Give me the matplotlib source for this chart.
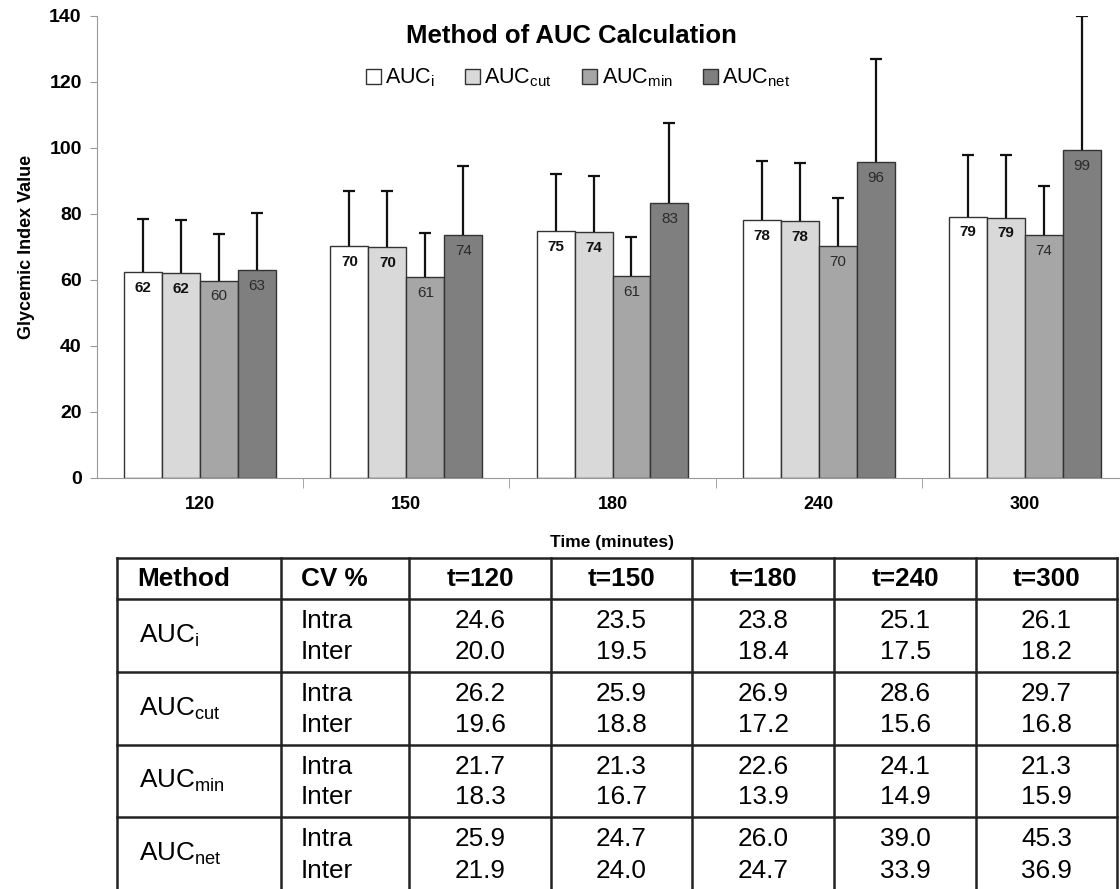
import numpy as np
import matplotlib.pyplot as plt

plt.rcParams['font.family'] = ['Liberation Sans', 'DejaVu Sans']
plt.rcParams['mathtext.default'] = 'regular'

times = ["120", "150", "180", "240", "300"]
methods = ["AUC$_{i}$", "AUC$_{cut}$", "AUC$_{min}$", "AUC$_{net}$"]

auc_i = [62.4, 70.4, 74.8, 78.2, 79.2]
auc_cut = [62.2, 70.0, 74.4, 77.8, 78.9]
auc_min = [59.8, 60.8, 61.2, 70.3, 73.7]
auc_net = [63.0, 73.6, 83.4, 95.8, 99.4]

sd_i = [16.1, 16.6, 17.2, 17.8, 18.8]
sd_cut = [16.0, 17.0, 17.1, 17.7, 19.1]
sd_min = [14.1, 13.4, 11.8, 14.5, 14.8]
sd_net = [17.3, 20.9, 24.1, 31.2, 40.6]

# CV table
cv_rows = ["Intra", "Inter"]
cv_cols = ["t=120", "t=150", "t=180", "t=240", "t=300"]
cv_i = [[24.6, 23.5, 23.8, 25.1, 26.1], [20.0, 19.5, 18.4, 17.5, 18.2]]
cv_cut = [[26.2, 25.9, 26.9, 28.6, 29.7], [19.6, 18.8, 17.2, 15.6, 16.8]]
cv_min = [[21.7, 21.3, 22.6, 24.1, 21.3], [18.3, 16.7, 13.9, 14.9, 15.9]]
cv_net = [[25.9, 24.7, 26.0, 39.0, 45.3], [21.9, 24.0, 24.7, 33.9, 36.9]]

means = [auc_i, auc_cut, auc_min, auc_net]
sds = [sd_i, sd_cut, sd_min, sd_net]
cvs = [cv_i, cv_cut, cv_min, cv_net]
colors = ["#ffffff", "#d9d9d9", "#a6a6a6", "#7f7f7f"]

fig = plt.figure(figsize=(11.2, 8.89), dpi=100)
ax = fig.add_axes([97/1120, 1-478/889, (1128-97)/1120, 462/889])

x = np.arange(len(times))
w = 0.184
for k in range(4):
    pos = x + (k - 1.5)*w
    ax.bar(pos, means[k], w, color=colors[k], edgecolor="#333333", linewidth=1.0,
           label=methods[k], zorder=2)
    eb = ax.errorbar(pos, means[k], yerr=[np.zeros(5), sds[k]], fmt="none", ecolor="#111111",
                     elinewidth=1.6, capsize=4.5, capthick=1.6, zorder=3)
    # keep only the upper cap
    for cl in eb[1]:
        if np.allclose(cl.get_ydata(), means[k]):
            cl.set_visible(False)
    for p, m in zip(pos, means[k]):
        if k < 2:
            ax.text(p, m - 4.8, f"{m:.0f}", ha="center", va="center", fontsize=11,
                    fontweight="bold", color="#111111", zorder=4)
        else:
            ax.text(p, m - 4.8, f"{m:.0f}", ha="center", va="center", fontsize=11,
                    color="#2a2a2a", zorder=4)

ax.set_xlim(-0.5, 4.5)
ax.set_ylim(0, 140)
ax.set_yticks(np.arange(0, 141, 20))
ax.set_xticks(x)
ax.set_xticklabels(times, fontsize=13, fontweight="bold")
ax.set_xticks(np.arange(0.5, 4.5, 1), minor=True)
ax.tick_params(axis="x", which="major", length=0, pad=13)
ax.tick_params(axis="x", which="minor", length=7, color="#999999", direction="out")
ax.tick_params(axis="y", length=5, color="#999999", labelsize=14, pad=6)
for lab in ax.get_yticklabels():
    lab.set_fontweight("bold")
for s in ["top", "right"]:
    ax.spines[s].set_visible(False)
for s in ["left", "bottom"]:
    ax.spines[s].set_color("#999999")
ax.set_ylabel("Glycemic Index Value", fontsize=13, fontweight="bold", labelpad=10)
ax.set_xlabel("Time (minutes)", fontsize=12.5, fontweight="bold", labelpad=16)

fig.text(571/1120, 1-36/889, "Method of AUC Calculation", ha="center", va="center",
         fontsize=18.5, fontweight="bold")
leg = ax.legend(loc="center", bbox_to_anchor=(578/1120, 1-78/889), bbox_transform=fig.transFigure,
                ncol=4, frameon=False, fontsize=15.5, handlelength=0.7, handleheight=0.7,
                handletextpad=0.2, columnspacing=1.4, borderpad=0)

# table drawn in figure pixel coordinates
tb = fig.add_axes([0, 0, 1, 1])
tb.set_xlim(0, 1120)
tb.set_ylim(889, 0)
tb.axis("off")
col_x = [117, 281, 409, 551, 692, 834, 976, 1117]
row_y = [558, 599, 672, 745, 817, 891]
for cx in col_x:
    tb.plot([cx, cx], [row_y[0], row_y[-1]], color="#222222", lw=1.8, solid_capstyle="projecting")
for ry in row_y:
    tb.plot([col_x[0], col_x[-1]], [ry, ry], color="#222222", lw=1.8, solid_capstyle="projecting")

fs = 18.8
hy = (row_y[0] + row_y[1])/2
tb.text(col_x[0] + 20, hy, "Method", ha="left", va="center", fontsize=fs, fontweight="bold")
tb.text(col_x[1] + 20, hy, "CV %", ha="left", va="center", fontsize=fs, fontweight="bold")
for j, c in enumerate(cv_cols):
    tb.text((col_x[j+2] + col_x[j+3])/2, hy, c, ha="center", va="center",
            fontsize=fs, fontweight="bold")

for i in range(4):
    cy = (row_y[i+1] + row_y[i+2])/2
    tb.text(col_x[0] + 22, cy, methods[i], ha="left", va="center", fontsize=fs)
    for r in range(2):
        yy = cy - 14.5 + r*31
        tb.text(col_x[1] + 20, yy, cv_rows[r], ha="left", va="center", fontsize=fs)
        for j in range(5):
            tb.text((col_x[j+2] + col_x[j+3])/2, yy, f"{cvs[i][r][j]:.1f}", ha="center",
                    va="center", fontsize=fs)

fig.savefig("out.png", dpi=100)
